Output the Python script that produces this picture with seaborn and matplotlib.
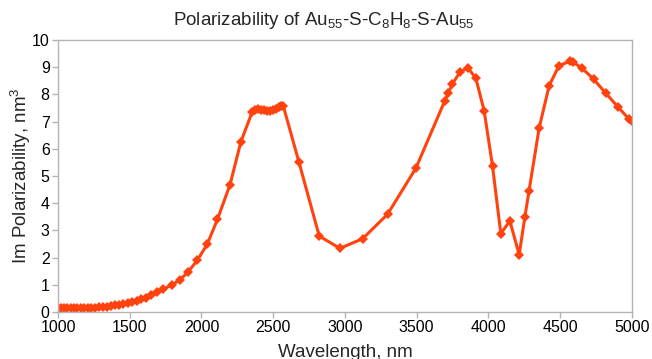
import numpy as np
import pandas as pd
import matplotlib
matplotlib.use('Agg')
import matplotlib.pyplot as plt
import seaborn as sns

# Wavelength (nm) and Im polarizability (nm^3)
wavelength = [1000, 1022, 1044, 1066, 1088, 1111, 1134, 1158, 1182, 1207,
              1232, 1258, 1284, 1311, 1338, 1366, 1395, 1424, 1454, 1485,
              1516, 1548, 1581, 1614, 1648, 1690, 1734, 1792, 1850, 1908,
              1971, 2041, 2111, 2199, 2275, 2354, 2375, 2396, 2417, 2438,
              2459, 2480, 2500, 2520, 2540, 2556, 2570, 2679, 2821, 2965,
              3123, 3297, 3495, 3697, 3720, 3748, 3801, 3857, 3913, 3971,
              4029, 4087, 4150, 4215, 4254, 4284, 4354, 4424, 4493, 4568,
              4591, 4652, 4735, 4819, 4905, 4979, 4998]
im_polar = [0.15, 0.15, 0.15, 0.14, 0.14, 0.14, 0.14, 0.14, 0.14, 0.15,
            0.15, 0.16, 0.17, 0.18, 0.20, 0.22, 0.24, 0.27, 0.30, 0.33,
            0.37, 0.42, 0.47, 0.53, 0.62, 0.72, 0.84, 0.99, 1.18, 1.48,
            1.90, 2.50, 3.40, 4.68, 6.26, 7.36, 7.43, 7.45, 7.44, 7.41,
            7.38, 7.39, 7.42, 7.47, 7.53, 7.57, 7.58, 5.52, 2.79, 2.34,
            2.69, 3.59, 5.29, 7.77, 8.04, 8.37, 8.81, 8.98, 8.59, 7.39,
            5.36, 2.88, 3.35, 2.10, 3.48, 4.46, 6.76, 8.32, 9.06, 9.21,
            9.18, 8.97, 8.55, 8.04, 7.53, 7.10, 7.03]

df = pd.DataFrame({'wl': wavelength, 'im': im_polar})

sns.set_theme(style='white')
plt.rcParams['font.family'] = ['Liberation Sans', 'DejaVu Sans']
plt.rcParams['mathtext.fontset'] = 'custom'
plt.rcParams['mathtext.rm'] = 'Liberation Sans'
plt.rcParams['mathtext.it'] = 'Liberation Sans'

fig = plt.figure(figsize=(6.52, 3.59), dpi=100)
ax = fig.add_axes([0.089, 0.131, 0.880, 0.7577])

sns.lineplot(data=df, x='wl', y='im', ax=ax, sort=False, color='#ff420e',
             linewidth=2.2, marker='D', markersize=5, markeredgewidth=0)

ax.set_xlim(1000, 5000)
ax.set_ylim(0, 10)
ax.set_xticks(range(1000, 5001, 500))
ax.set_yticks(range(0, 11))

for s in ax.spines.values():
    s.set_color('#b3b3b3')
    s.set_linewidth(1)
ax.tick_params(axis='both', which='major', length=4, width=1, color='#b3b3b3',
               labelsize=11.5, labelcolor='#000000', pad=2,
               bottom=True, left=True)

ax.set_xlabel('Wavelength, nm', fontsize=13.5)
ax.xaxis.set_label_coords(0.5, -0.15)
ax.xaxis.label.set_va('center')
ax.set_ylabel('Im Polarizability, nm$^3$', fontsize=13.5)
ax.yaxis.set_label_coords(-0.064, 0.5)
ax.yaxis.label.set_va('center')

fig.text(0.497, 0.944, 'Polarizability of Au$_{55}$-S-C$_8$H$_8$-S-Au$_{55}$',
         ha='center', va='center', fontsize=13.5)

fig.savefig('out.png', dpi=100)
